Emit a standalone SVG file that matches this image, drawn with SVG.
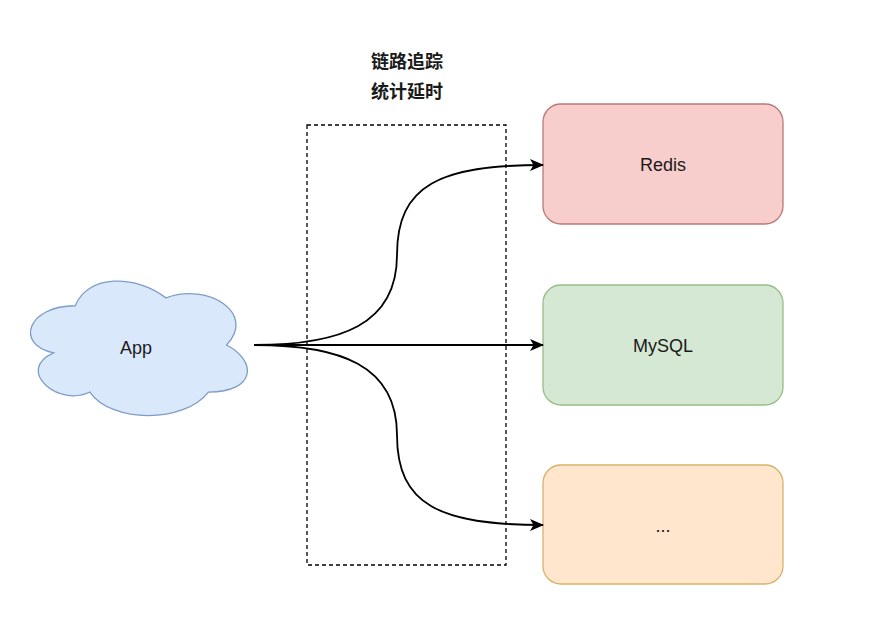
<svg xmlns="http://www.w3.org/2000/svg" width="880" height="644" viewBox="0 0 880 644">
<defs>
<style>
.lbl{font-family:"Liberation Sans",Arial,sans-serif;font-size:18px;fill:#1a1a1a;text-anchor:middle;dominant-baseline:central}
.cjk{font-family:"Noto Sans CJK SC","Liberation Sans",sans-serif;font-size:18px;font-weight:bold;fill:#1a1a1a;text-anchor:middle}
.edge{fill:none;stroke:#000;stroke-width:1.8;marker-end:url(#arr)}
</style>
<marker id="arr" viewBox="0 0 14 12" refX="13" refY="6" markerWidth="14" markerHeight="12" markerUnits="userSpaceOnUse" orient="auto">
<path d="M0,0 L14,6 L0,12 L3.5,6 Z" fill="#000"/>
</marker>
</defs>
<rect width="880" height="644" fill="#fff"/>
<g id="trace">
<rect x="307" y="125" width="199" height="440" fill="none" stroke="#000" stroke-width="1.3" stroke-dasharray="4 3"/>
<text class="cjk" x="407" y="68">链路追踪</text>
<text class="cjk" x="407" y="98">统计延时</text>
</g>
<g id="app">
<path transform="translate(138,348.5) scale(1.1,1.18) translate(-140,-351.5)" vector-effect="non-scaling-stroke" d="M83,315.25 C39,315.25 28,348.5 63.2,355.15 C28,369.8 67.6,401.7 96.2,388.4 C116,415 182,415 204,388.4 C248,388.4 248,361.8 220.5,348.5 C248,321.9 204,295.3 165.5,308.6 C138,288.65 94,288.65 83,315.25 Z" fill="#dae8fc" stroke="#7d9cc6" stroke-width="1.3"/>
<text class="lbl" x="136" y="348">App</text>
</g>
<g id="redis">
<rect x="543" y="104" width="240" height="120" rx="18" fill="#f8cecc" stroke="#b97a77" stroke-width="1.3"/>
<text class="lbl" x="663" y="165">Redis</text>
</g>
<g id="mysql">
<rect x="543" y="285" width="240" height="120" rx="18" fill="#d5e8d4" stroke="#98bd88" stroke-width="1.3"/>
<text class="lbl" x="663" y="346">MySQL</text>
</g>
<g id="more">
<rect x="543" y="465" width="240" height="119" rx="18" fill="#ffe6cc" stroke="#d6b26a" stroke-width="1.3"/>
<text class="lbl" x="663" y="526">...</text>
</g>
<g id="connectors">
<path class="edge" d="M254,345 C340,345 397,325 397,255 C397,185 440,165 543,165"/>
<path class="edge" d="M254,345 L543,345"/>
<path class="edge" d="M254,345 C340,345 397,365 397,435 C397,505 440,525 543,525"/>
</g>
</svg>
